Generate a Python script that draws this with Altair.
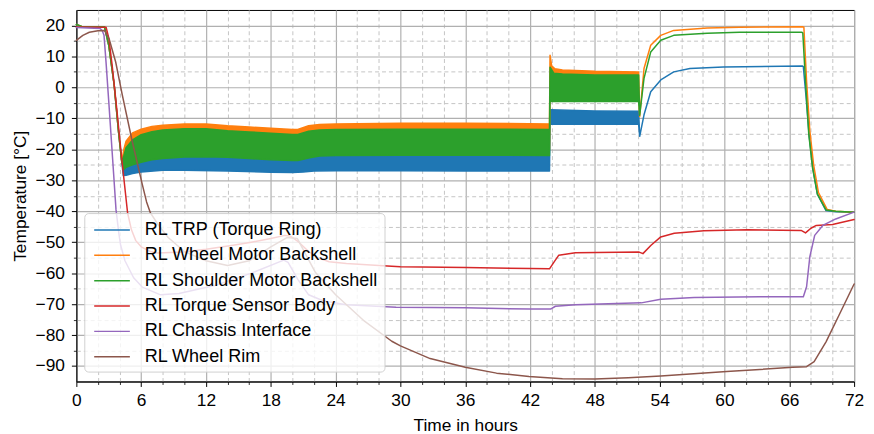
import altair as alt
import pandas as pd

NAMES = ["RL TRP (Torque Ring)", "RL Wheel Motor Backshell", "RL Shoulder Motor Backshell",
         "RL Torque Sensor Body", "RL Chassis Interface", "RL Wheel Rim"]
COLORS = ["#1f77b4", "#ff7f0e", "#2ca02c", "#d62728", "#9467bd", "#8c564b"]

# ---- RL TRP (Torque Ring): oscillating band -> lower / upper envelope
trp_t = [0, 0.5, 2.6, 3.0, 3.5, 3.9, 4.2,
         4.35, 4.6, 5.2, 6, 8, 10, 14, 18, 20, 21, 22, 24, 30, 36, 43.8,
         43.85, 48, 52.05,
         52.15, 52.55, 53.17, 54.1, 55.3, 56.8, 59.9, 67.2,
         67.3, 67.55, 67.85, 68.2, 68.6, 69.4, 70.3, 72]
trp_lo = [20.3, 19.6, 19.5, 13.6, 0.8, -14.2, -24,
          -28.5, -28.4, -27.8, -27.3, -26.8, -26.8, -27.0, -27.4, -27.5, -27.3, -27.0, -26.9, -26.9, -27.0, -27.0,
          -11.85, -11.9, -11.9,
          -15.8, -8.85, -1.4, 2.4, 5.0, 6.1, 6.6, 6.9,
          6.7, -3, -16, -26.5, -34.5, -39.8, -40.2, -40.3]
trp_hi = [20.3, 19.6, 19.5, 13.6, 0.8, -14.2, -24,
          -26, -25.2, -24, -23.2, -22.4, -22.2, -22.6, -23.4, -23.8, -23.0, -22.2, -21.9, -21.8, -21.9, -22.0,
          -7.2, -7.6, -7.7,
          -15.8, -8.85, -1.4, 2.4, 5.0, 6.1, 6.6, 6.9,
          6.7, -3, -16, -26.5, -34.5, -39.8, -40.2, -40.3]

# ---- RL Wheel Motor Backshell
wm_t = [0, 0.5, 2.6, 3.0, 3.5, 3.9, 4.2,
        4.4, 4.6, 5.2, 6, 7, 8, 10, 12, 14, 16, 18, 20, 20.5, 21.5, 22.5, 24, 30, 36, 43.8,
        43.85, 44.0, 44.3, 45, 48, 52.05,
        52.15, 52.55, 53.17, 54.1, 55.3, 58.4, 61.4, 67.2,
        67.35, 67.6, 67.9, 68.25, 68.7, 69.5, 70.3, 72]
wm_hi = [20.3, 19.7, 19.6, 13.6, 0.8, -14.2, -24,
         -20, -17.4, -14.7, -13.5, -12.6, -12.2, -11.8, -11.8, -12.4, -12.8, -13.2, -13.6, -13.6, -12.4, -12.0,
         -11.8, -11.6, -11.6, -11.8,
         10.4, 7.0, 6.0, 5.6, 5.2, 5.0,
         -9.4, 6.1, 13.6, 16.8, 18.4, 19.2, 19.4, 19.6,
         19.4, 2, -14, -25, -34, -39.4, -40, -40.3]
wm_lo = [20.3, 19.7, 19.6, 13.6, 0.8, -14.2, -24,
         -24.5, -23.8, -23, -22.2, -21.4, -21, -20.5, -20.4, -20.6, -21, -21.4, -21.6, -21.6, -20.8, -20.2,
         -20, -19.9, -19.9, -20.0,
         -2.6, -2.6, -2.6, -2.6, -2.6, -2.6,
         -9.4, 6.1, 13.6, 16.8, 18.4, 19.2, 19.4, 19.6,
         19.4, 2, -14, -25, -34, -39.4, -40, -40.3]

# ---- RL Shoulder Motor Backshell
sm_t = [0, 0.5, 2.6, 3.0, 3.5, 3.9, 4.2,
        4.4, 4.6, 5.2, 6, 7, 8, 10, 12, 14, 16, 18, 20, 20.5, 21.5, 22.5, 24, 30, 36, 43.8,
        43.85, 44.2, 45, 48, 52.05,
        52.15, 52.55, 53.17, 54.1, 55.3, 58.4, 61.4, 67.15,
        67.25, 67.5, 67.8, 68.15, 68.6, 69.4, 70.3, 72]
sm_hi = [20.3, 19.7, 19.6, 13.6, 0.8, -14.2, -24,
         -22, -19.5, -17, -15.3, -14.3, -13.8, -13.4, -13.4, -14.0, -14.4, -14.8, -15.2, -15.2, -14.2, -13.8,
         -13.6, -13.5, -13.5, -13.6,
         6.5, 4.6, 4.3, 4.0, 4.0,
         -9, 2.9, 11.4, 15.2, 16.8, 17.5, 17.8, 17.8,
         17.6, 2, -15, -26, -34.5, -39.6, -40, -40.3]
sm_lo = [20.3, 19.7, 19.6, 13.6, 0.8, -14.2, -24,
         -26.5, -25.8, -25, -24.2, -23.4, -23, -22.5, -22.4, -22.6, -23, -23.4, -23.6, -23.6, -22.8, -22.2,
         -22, -21.9, -21.9, -22.0,
         -4.6, -4.6, -4.6, -4.6, -4.6,
         -9, 2.9, 11.4, 15.2, 16.8, 17.5, 17.8, 17.8,
         17.6, 2, -15, -26, -34.5, -39.6, -40, -40.3]

# ---- RL Torque Sensor Body
ts_t = [0, 2.75, 3.0, 3.3, 3.67, 4.2, 4.74, 5.1, 5.5, 6.0,
        6.85, 7.5, 9.9, 12, 14.5, 16.2, 18, 19.3, 19.8, 20.6,
        21.5, 22.3, 23.4, 25, 28.4, 30, 36, 42, 43.8, 44.2,
        44.66, 46.2, 52.1, 52.45, 53.2, 54.1, 55.35, 58.1, 62.1, 67.1,
        67.5, 68.0, 68.5, 70, 72]
ts_v = [19.5, 19.4, 16, 7.5, -4.6, -23, -40.5, -46, -49.5, -51.5,
        -53, -53.5, -53.2, -52.3, -51.0, -50, -48.8, -47.8, -48, -50,
        -53, -55, -56.3, -56.9, -57.6, -57.9, -58.2, -58.5, -58.6, -56.5,
        -54.2, -53.4, -53.2, -53.7, -51, -48.3, -47.1, -46.3, -46, -46.2,
        -47, -45.5, -44.6, -44.3, -42.7]

# ---- RL Chassis Interface
ci_t = [0, 2.2, 2.4, 2.56, 2.75, 3.0, 3.45, 3.67, 3.94, 4.1,
        4.5, 5.3, 6.1, 7.8, 9.5, 13, 16.2, 19.2, 19.6, 20.5,
        21.5, 22.9, 25, 29.6, 36, 42, 43.9, 44.35, 46.2, 52.3,
        54.1, 57.2, 63.3, 67.3, 67.6, 67.9, 68.35, 69.1, 70.3, 72]
ci_v = [19.3, 19.0, 18.3, 16.8, 8, -4.6, -28, -39.5, -47.3, -51,
        -56, -61.5, -64.5, -67, -66.6, -63.8, -60, -55.8, -56.5, -62,
        -67, -69, -70.2, -71, -71.2, -71.6, -71.6, -70.7, -70.2, -69.6,
        -68.4, -67.9, -67.6, -67.6, -64.4, -54.7, -47.8, -44.6, -42.5, -40.3]

# ---- RL Wheel Rim
wr_t = [0, 0.6, 1.2, 2.0, 2.6, 3.03, 3.64, 4.25, 5.17, 6.08,
        6.5, 6.85, 7.6, 8.5, 10, 12, 14, 16, 18, 19.5,
        20.45, 22.1, 24, 26.7, 29.2, 30, 32.75, 36, 38.9, 41.9,
        45, 48, 51.1, 54.1, 60.2, 66.3, 67.6, 68.3, 69.4, 70.6,
        72]
wr_v = [15.2, 16.8, 17.8, 18.3, 18.4, 15.7, 8.2, -2.4, -17.4, -31,
        -37, -40.5, -44.5, -48.5, -53, -56, -57.5, -56, -51.5, -48.5,
        -48.8, -59.6, -67, -75.6, -82, -83.5, -87.6, -90.4, -92.3, -93.4,
        -94.1, -94.2, -93.8, -93.2, -91.8, -90.4, -90.2, -88.6, -82.2, -73.6,
        -63.5]

X_MAJOR = list(range(0, 73, 6))
X_MINOR = [v for v in range(0, 73, 2) if v % 6]
Y_MAJOR = list(range(-90, 21, 10))
Y_MINOR = list(range(-85, 16, 10))

rows = []
def add(name, t, lo, hi):
    assert len(t) == len(lo) == len(hi), name
    for a, b, c in zip(t, lo, hi):
        rows.append({"series": name, "t": a, "lo": b, "hi": c})

add(NAMES[0], trp_t, trp_lo, trp_hi)
add(NAMES[1], wm_t, wm_lo, wm_hi)
add(NAMES[2], sm_t, sm_lo, sm_hi)
add(NAMES[3], ts_t, ts_v, ts_v)
add(NAMES[4], ci_t, ci_v, ci_v)
add(NAMES[5], wr_t, wr_v, wr_v)
df = pd.DataFrame(rows)

FONT = "Liberation Sans"
FS = 17.5
LFS = 18.2
MINUS = "replace(datum.label, '-', '\u2212')"

xs = alt.Scale(domain=[0, 72], nice=False, zero=False)
ys = alt.Scale(domain=[-95, 25], nice=False, zero=False)

x_major = alt.Axis(values=X_MAJOR, orient="bottom", grid=True, gridColor="#b0b0b0", gridWidth=1.2,
                   tickSize=5, tickColor="black", tickWidth=1, domainColor="black", domainWidth=1,
                   labelFontSize=FS, labelFont=FONT, labelColor="black", labelPadding=5, labelFlush=False,
                   title="Time in hours", titleFontSize=FS, titleFont=FONT, titleFontWeight="normal",
                   titleColor="black", titlePadding=8)
x_minor = alt.Axis(values=X_MINOR, orient="bottom", grid=True, gridColor="#c4c4c4", gridWidth=1,
                   gridDash=[4, 3], tickSize=3, tickColor="black", tickWidth=0.8, labels=False,
                   domain=False, title=None)
y_major = alt.Axis(values=Y_MAJOR, orient="left", grid=True, gridColor="#b0b0b0", gridWidth=1.2,
                   tickSize=5, tickColor="black", tickWidth=1, domainColor="black", domainWidth=1,
                   labelFontSize=FS, labelFont=FONT, labelColor="black", labelPadding=7, labelFlush=False,
                   labelExpr=MINUS,
                   title="Temperature [°C]", titleFontSize=FS, titleFont=FONT, titleFontWeight="normal",
                   titleColor="black", titlePadding=6)
y_minor = alt.Axis(values=Y_MINOR, orient="left", grid=True, gridColor="#c4c4c4", gridWidth=1,
                   gridDash=[4, 3], tickSize=3, tickColor="black", tickWidth=0.8, labels=False,
                   domain=False, title=None)

legend = alt.Legend(orient="none", legendX=8, legendY=205, title=None,
                    symbolType="M-1.8,0H1.8", symbolSize=400, symbolStrokeWidth=1.5,
                    symbolOffset=11, labelOffset=22, labelFontSize=LFS, labelFont=FONT,
                    labelColor="black", labelLimit=500, padding=6, rowPadding=5.6,
                    fillColor="rgba(255,255,255,0.8)", strokeColor="#d0d0d0", cornerRadius=4)

layers = []
for i, name in enumerate(NAMES):
    xa = x_major if i == 0 else (x_minor if i == 1 else None)
    ya = y_major if i == 0 else (y_minor if i == 1 else None)
    layers.append(
        alt.Chart(df).transform_filter(alt.datum.series == name)
        .mark_area(strokeWidth=1.5, interpolate="linear", strokeJoin="round")
        .encode(
            x=alt.X("t:Q", scale=xs, axis=xa),
            y=alt.Y("hi:Q", scale=ys, axis=ya, stack=None),
            y2="lo:Q",
            fill=alt.Fill("series:N", scale=alt.Scale(domain=NAMES, range=COLORS), legend=legend),
            stroke=alt.Stroke("series:N", scale=alt.Scale(domain=NAMES, range=COLORS), legend=legend),
        )
    )

chart = (
    alt.layer(*layers)
    .resolve_axis(x="independent", y="independent")
    .properties(width=785, height=375,
                autosize=alt.AutoSizeParams(type="none"),
                padding={"left": 69, "top": 0, "right": 12, "bottom": 51})
    .configure(font=FONT)
    .configure_view(stroke="black", strokeWidth=1)
)

chart.save("out.html", embed_options={"renderer": "svg", "actions": False})
